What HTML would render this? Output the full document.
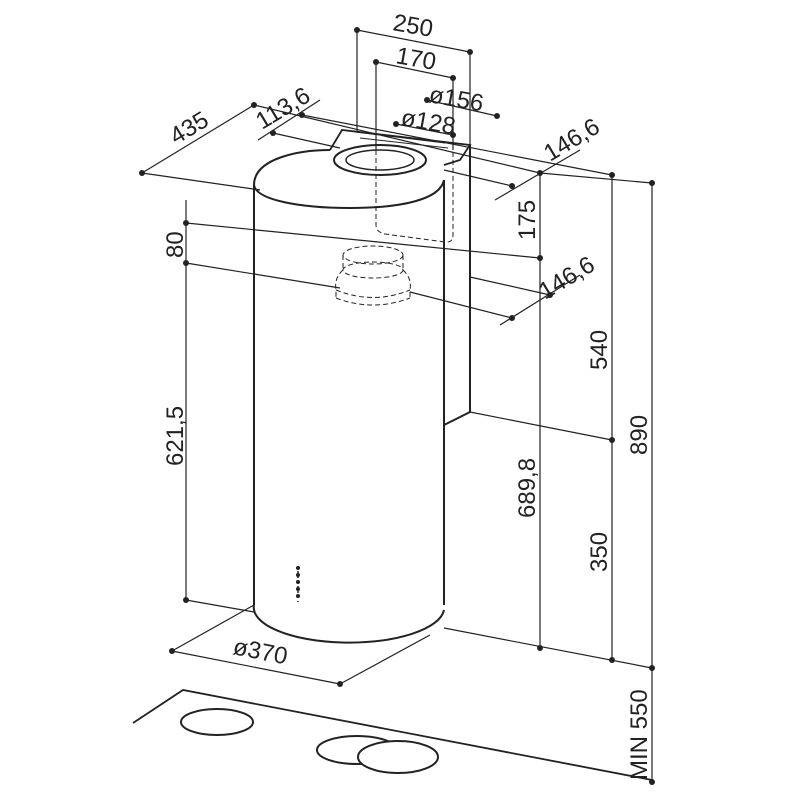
<!DOCTYPE html>
<html><head><meta charset="utf-8"><style>
html,body{margin:0;padding:0;background:#fff;}
svg{display:block}
text{font-family:"Liberation Sans",sans-serif;font-size:24px;fill:#222;}
</style></head><body>
<svg width="800" height="800" viewBox="0 0 800 800" xmlns="http://www.w3.org/2000/svg">
<g stroke="#222" stroke-width="1.2" fill="none">
<path d="M254,185 L254,605 M444,180 L444,605" stroke-width="2"/>
<path d="M254,605 A95,35 0 0 0 444,610" stroke-width="2"/>
<path d="M254,185 C254,158 300,150 330,150 M254,185 C256,200 300,208 350,208 C400,208 440,200 444,180" stroke-width="2"/>
<path d="M330,150 L342,130 L470,145 L460,160 L444,165" stroke-width="1.8"/>
<path d="M355,132 L445,143 M360,138 L448,148" stroke-width="1"/>
<ellipse cx="380" cy="160" rx="46" ry="15" fill="#fff" stroke-width="2"/>
<ellipse cx="380" cy="160" rx="34" ry="10" stroke-width="1.5"/>
<path d="M470,145 L470,412 L444,425" stroke-width="2"/>
<g stroke-dasharray="5,3" stroke-width="1">
<path d="M376,150 L376,225 Q376,232 385,234 L445,242 Q453,243 453,235 L453,150"/>
<ellipse cx="373" cy="255" rx="30" ry="9"/>
<path d="M343,255 L343,270 M403,255 L403,270"/>
<ellipse cx="373" cy="270" rx="30" ry="8"/>
<path d="M343,270 Q334,278 336,290 L336,298 M403,270 Q412,278 410,290 L410,298"/>
<path d="M336,290 Q373,305 410,290 M336,298 Q373,312 410,298"/>
</g>
<path d="M298,566 L298,602" stroke-width="1.5" stroke-dasharray="2,3"/>
<path d="M357,30 L470,52 M357,30 L357,132 M470,52 L470,145"/>
<path d="M376,62 L453,78 M376,62 L376,150 M453,78 L453,150"/>
<path d="M427,100 L497,116 M396,124 L453,135"/>
<path d="M142,173 L254,105 M254,105 L540,173 M142,173 L260,190"/>
<path d="M258,140 L320,100 M273,133 L340,148 M302,115 L612,175"/>
<path d="M495,200 L580,150 M444,170 L512,186"/>
<path d="M540,173 L540,648 M612,175 L612,660 M652,183 L652,782"/>
<path d="M540,173 L652,183"/>
<path d="M186,200 L186,600 M186,223 L540,258 M186,263 L340,288 M410,292 L512,318 M470,277 L550,295 M500,325 L580,275"/>
<path d="M186,600 L254,612 M470,412 L612,440 M444,628 L652,668"/>
<path d="M172,651 L340,684 M172,651 L254,605 M340,684 L430,635"/>
<path d="M133,723 L183,690 L652,780" stroke-width="1.8"/>
<ellipse cx="217" cy="722" rx="36" ry="13" stroke-width="2"/>
<ellipse cx="357" cy="750" rx="40" ry="14" stroke-width="2"/>
<ellipse cx="398" cy="757" rx="40" ry="16" fill="#fff" stroke-width="2"/>
</g>
<g fill="#222">
<circle cx="357" cy="30" r="3"/><circle cx="470" cy="52" r="3"/>
<circle cx="376" cy="62" r="3"/><circle cx="453" cy="78" r="3"/>
<circle cx="427" cy="100" r="3"/><circle cx="497" cy="116" r="3"/>
<circle cx="396" cy="124" r="3"/><circle cx="453" cy="135" r="3"/>
<circle cx="142" cy="173" r="3"/><circle cx="254" cy="105" r="3"/>
<circle cx="302" cy="115" r="3"/><circle cx="273" cy="133" r="3"/>
<circle cx="512" cy="186" r="3"/><circle cx="540" cy="173" r="3"/>
<circle cx="612" cy="175" r="3"/><circle cx="652" cy="183" r="3"/>
<circle cx="540" cy="258" r="3"/><circle cx="550" cy="295" r="3"/><circle cx="512" cy="318" r="3"/>
<circle cx="186" cy="223" r="3"/><circle cx="186" cy="263" r="3"/><circle cx="186" cy="600" r="3"/>
<circle cx="612" cy="440" r="3"/><circle cx="540" cy="648" r="3"/><circle cx="612" cy="660" r="3"/><circle cx="652" cy="668" r="3"/><circle cx="652" cy="782" r="3"/>
<circle cx="172" cy="651" r="3"/><circle cx="340" cy="684" r="3"/>
<circle cx="298" cy="568" r="2"/><circle cx="298" cy="575" r="2"/><circle cx="298" cy="582" r="2"/><circle cx="298" cy="589" r="2"/><circle cx="298" cy="596" r="2"/>
</g>
<text x="392" y="30" transform="rotate(10 392 30)">250</text>
<text x="395" y="63" transform="rotate(10 395 63)">170</text>
<text x="428" y="102" transform="rotate(10 428 102)">ø156</text>
<text x="400" y="125" transform="rotate(10 400 125)">ø128</text>
<text x="176" y="145" transform="rotate(-31 176 145)">435</text>
<text x="262" y="130" transform="rotate(-31 262 130)">113,6</text>
<text x="550" y="162" transform="rotate(-31 550 162)">146,6</text>
<text x="545" y="300" transform="rotate(-31 545 300)">146,6</text>
<text x="535" y="240" transform="rotate(-90 535 240)">175</text>
<text x="183" y="258" transform="rotate(-90 183 258)">80</text>
<text x="183" y="466" transform="rotate(-90 183 466)">621,5</text>
<text x="607" y="370" transform="rotate(-90 607 370)">540</text>
<text x="647" y="455" transform="rotate(-90 647 455)">890</text>
<text x="535" y="518" transform="rotate(-90 535 518)">689,8</text>
<text x="607" y="572" transform="rotate(-90 607 572)">350</text>
<text x="647" y="780" transform="rotate(-90 647 780)">MIN 550</text>
<text x="232" y="654" transform="rotate(11 232 654)">ø370</text>
</svg>
</body></html>
